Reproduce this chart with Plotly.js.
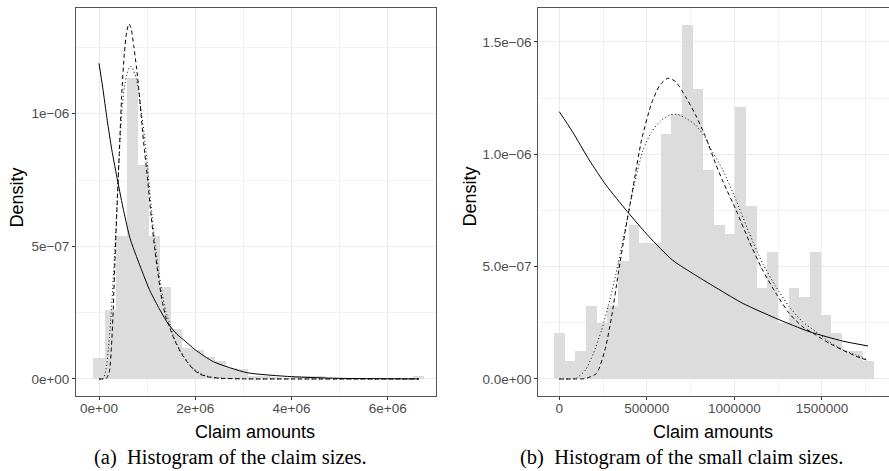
<!DOCTYPE html>
<html><head><meta charset="utf-8">
<script src="https://cdn.plot.ly/plotly-3.0.1.min.js"></script>
<style>html,body{margin:0;padding:0;overflow:hidden;background:#fff}#chart{width:892px;height:471px}</style>
</head><body><div id="chart"></div><script>
// ---- data: all claims (panel a) ----
const binWidthAll = 229000;
const histAll = [7.8e-8, 2.59e-7, 5.38e-7, 1.134e-6, 8.06e-7, 5.38e-7, 3.47e-7, 1.9e-7, 1.15e-7, 1.08e-7,
  8.4e-8, 6.8e-8, 4.0e-8, 3.6e-8, 1.2e-8, 1.0e-8, 8e-9, 5e-9, 1.0e-8, 1.0e-8,
  1.0e-8, 3e-9, 3e-9, 0, 3e-9, 0, 0, 3e-9, 0, 1.1e-8];
// ---- data: small claims (panel b) ----
const binWidthSmall = 60900;
const histSmall = [2.06e-7, 8.2e-8, 1.26e-7, 3.25e-7, 2.48e-7, 3.25e-7, 5.27e-7, 6.84e-7, 6.04e-7, 6.04e-7,
  1.09e-6, 1.18e-6, 1.577e-6, 1.29e-6, 9.3e-7, 6.84e-7, 6.45e-7, 1.21e-6, 7.7e-7, 4.07e-7,
  5.65e-7, 2.48e-7, 4.07e-7, 3.66e-7, 5.65e-7, 2.86e-7, 2.06e-7, 1.26e-7, 1.26e-7, 8.2e-8];
const smallMax = 1763000;
// ---- fitted densities ----
const expX = [0, 76000, 171000, 266000, 389000, 512000, 645000, 778000, 911000, 1047000, 1237000, 1427000, 1617000, 1763000, 2000000, 2380000, 3070000, 4000000, 5000000, 6650000];
const expY = [1.19e-6, 1.10e-6, 9.75e-7, 8.64e-7, 7.45e-7, 6.34e-7, 5.30e-7, 4.62e-7, 3.99e-7, 3.37e-7, 2.70e-7, 2.11e-7, 1.69e-7, 1.47e-7, 1.10e-7, 6.5e-8, 2.4e-8, 8.8e-9, 2.5e-9, 3e-10];
const lnX = [0, 100000, 150000, 213000, 261000, 299000, 337000, 375000, 422000, 470000, 527000, 575000, 622000, 664000, 721000, 778000, 835000, 892000, 934000, 1009000, 1085000, 1161000, 1237000, 1313000, 1389000, 1465000, 1541000, 1617000, 1693000, 1763000, 1850000, 1960000, 2100000, 2240000, 2500000, 3000000, 4000000, 6650000];
const lnY = [0, 0, 2e-9, 2.5e-8, 1.29e-7, 2.77e-7, 4.7e-7, 6.49e-7, 8.56e-7, 1.064e-6, 1.227e-6, 1.309e-6, 1.339e-6, 1.324e-6, 1.257e-6, 1.176e-6, 1.079e-6, 9.6e-7, 8.8e-7, 7.53e-7, 6.12e-7, 4.85e-7, 3.82e-7, 2.92e-7, 2.33e-7, 1.96e-7, 1.59e-7, 1.29e-7, 1.02e-7, 8.2e-8, 6.0e-8, 3.6e-8, 1.8e-8, 9e-9, 3e-9, 5e-10, 0, 0];
const wbX = [0, 60000, 100000, 150000, 195000, 242000, 289000, 337000, 385000, 432000, 479000, 527000, 575000, 632000, 675000, 721000, 778000, 835000, 858000, 934000, 1009000, 1085000, 1161000, 1237000, 1313000, 1389000, 1465000, 1541000, 1617000, 1693000, 1763000, 1850000, 1960000, 2100000, 2240000, 2500000, 3000000, 4000000, 6650000];
const wbY = [0, 0, 5e-9, 4.0e-8, 1.14e-7, 2.18e-7, 3.52e-7, 5.15e-7, 7.0e-7, 8.78e-7, 1.02e-6, 1.10e-6, 1.146e-6, 1.175e-6, 1.178e-6, 1.161e-6, 1.131e-6, 1.072e-6, 1.035e-6, 9.3e-7, 7.97e-7, 6.49e-7, 5.15e-7, 4.11e-7, 3.22e-7, 2.55e-7, 2.11e-7, 1.66e-7, 1.32e-7, 1.07e-7, 8.5e-8, 6.2e-8, 4.0e-8, 2.2e-8, 1.1e-8, 3e-9, 5e-10, 0, 0];
// ---- ticks ----
const xTicksA = [0, 2e6, 4e6, 6e6];
const xLabelsA = ['0e+00', '2e+06', '4e+06', '6e+06'];
const xMinorA = [1e6, 3e6, 5e6, 7e6];
const yTicksA = [0, 5e-7, 1e-6];
const yLabelsA = ['0e+00', '5e\u221207', '1e\u221206'];
const yMinorA = [2.5e-7, 7.5e-7, 1.25e-6];
const xTicksB = [0, 500000, 1000000, 1500000];
const xLabelsB = ['0', '500000', '1000000', '1500000'];
const xMinorB = [250000, 750000, 1250000, 1750000];
const yTicksB = [0, 5e-7, 1e-6, 1.5e-6];
const yLabelsB = ['0.0e+00', '5.0e\u221207', '1.0e\u221206', '1.5e\u221206'];
const yMinorB = [2.5e-7, 7.5e-7, 1.25e-6];

const W = 892, H = 471;
const centers = (arr, w) => arr.map((_, i) => i * w);
const clip = (xs, ys, m) => { const ox = [], oy = []; xs.forEach((x, i) => { if (x <= m) { ox.push(x); oy.push(ys[i]); } }); return [ox, oy]; };

const barStyle = {type: 'bar', marker: {color: '#dcdcdc', line: {width: 0}}, hoverinfo: 'skip'};
const lineStyle = (dash) => ({type: 'scatter', mode: 'lines', hoverinfo: 'skip',
  line: {color: '#000', width: 1, dash: dash, shape: 'spline', smoothing: 0.6}});

const traces = [];
traces.push(Object.assign({}, barStyle, {x: centers(histAll, binWidthAll), y: histAll, width: binWidthAll, xaxis: 'x', yaxis: 'y'}));
traces.push(Object.assign({}, lineStyle('solid'), {x: expX, y: expY, xaxis: 'x', yaxis: 'y'}));
traces.push(Object.assign({}, lineStyle('4px,3px'), {x: lnX, y: lnY, xaxis: 'x', yaxis: 'y'}));
traces.push(Object.assign({}, lineStyle('1px,2.5px'), {x: wbX, y: wbY, xaxis: 'x', yaxis: 'y'}));

traces.push(Object.assign({}, barStyle, {x: centers(histSmall, binWidthSmall), y: histSmall, width: binWidthSmall, xaxis: 'x2', yaxis: 'y2'}));
let c;
c = clip(expX, expY, smallMax); traces.push(Object.assign({}, lineStyle('solid'), {x: c[0], y: c[1], xaxis: 'x2', yaxis: 'y2'}));
c = clip(lnX, lnY, smallMax); traces.push(Object.assign({}, lineStyle('4px,3px'), {x: c[0], y: c[1], xaxis: 'x2', yaxis: 'y2'}));
c = clip(wbX, wbY, smallMax); traces.push(Object.assign({}, lineStyle('1px,2.5px'), {x: c[0], y: c[1], xaxis: 'x2', yaxis: 'y2'}));

const tickFont = {family: 'Liberation Sans, Arial, sans-serif', size: 13.5, color: '#4d4d4d'};
function axis(domain, range, tv, tt, minor, anchor, isX) {
  return {domain: domain, range: range, anchor: anchor, tickmode: 'array', tickvals: tv, ticktext: tt,
    showgrid: true, gridcolor: '#ebebeb', gridwidth: 1, zeroline: false,
    showline: true, mirror: true, linecolor: '#555', linewidth: 1,
    ticks: 'outside', ticklen: 3, tickwidth: 1, tickcolor: '#333',
    ticklabelstandoff: isX ? -3 : 0,
    tickfont: tickFont, automargin: false, fixedrange: true,
    minor: {tickmode: 'array', tickvals: minor, showgrid: true, gridcolor: '#f2f2f2', gridwidth: 1, ticks: ''}};
}
const yDom = [1 - 396 / H, 1 - 8 / H];
const titleFont = {family: 'Liberation Sans, Arial, sans-serif', size: 18, color: '#000'};
const capFont = {family: 'Liberation Serif, Times New Roman, serif', size: 20.5, color: '#000'};
const layout = {
  width: W, height: H, margin: {l: 0, r: 0, t: 0, b: 0, autoexpand: false},
  paper_bgcolor: '#fff', plot_bgcolor: '#fff', showlegend: false, bargap: 0,
  xaxis: axis([76 / W, 436 / W], [-478000, 7003000], xTicksA, xLabelsA, xMinorA, 'y', true),
  yaxis: axis(yDom, [-6.41e-8, 1.3984e-6], yTicksA, yLabelsA, yMinorA, 'x', false),
  xaxis2: axis([538.3 / W, 890 / W], [-119600, 1888600], xTicksB, xLabelsB, xMinorB, 'y2', true),
  yaxis2: axis(yDom, [-7.57e-8, 1.6513e-6], yTicksB, yLabelsB, yMinorB, 'x2', false),
  annotations: [
    {text: 'Density', x: 16.5 / W, y: 1 - 198 / H, textangle: -90, font: titleFont},
    {text: 'Density', x: 469.5 / W, y: 1 - 197 / H, textangle: -90, font: titleFont},
    {text: 'Claim amounts', x: 255 / W, y: 1 - 432 / H, font: titleFont},
    {text: 'Claim amounts', x: 713 / W, y: 1 - 432 / H, font: titleFont},
    {text: '(a)  Histogram of the claim sizes.', x: 230.5 / W, y: 1 - 457 / H, font: capFont},
    {text: '(b)  Histogram of the small claim sizes.', x: 681 / W, y: 1 - 457 / H, font: capFont}
  ].map(a => Object.assign({xref: 'paper', yref: 'paper', showarrow: false, xanchor: 'center', yanchor: 'middle'}, a))
};
Plotly.newPlot('chart', traces, layout, {staticPlot: true, displayModeBar: false});
</script></body></html>
